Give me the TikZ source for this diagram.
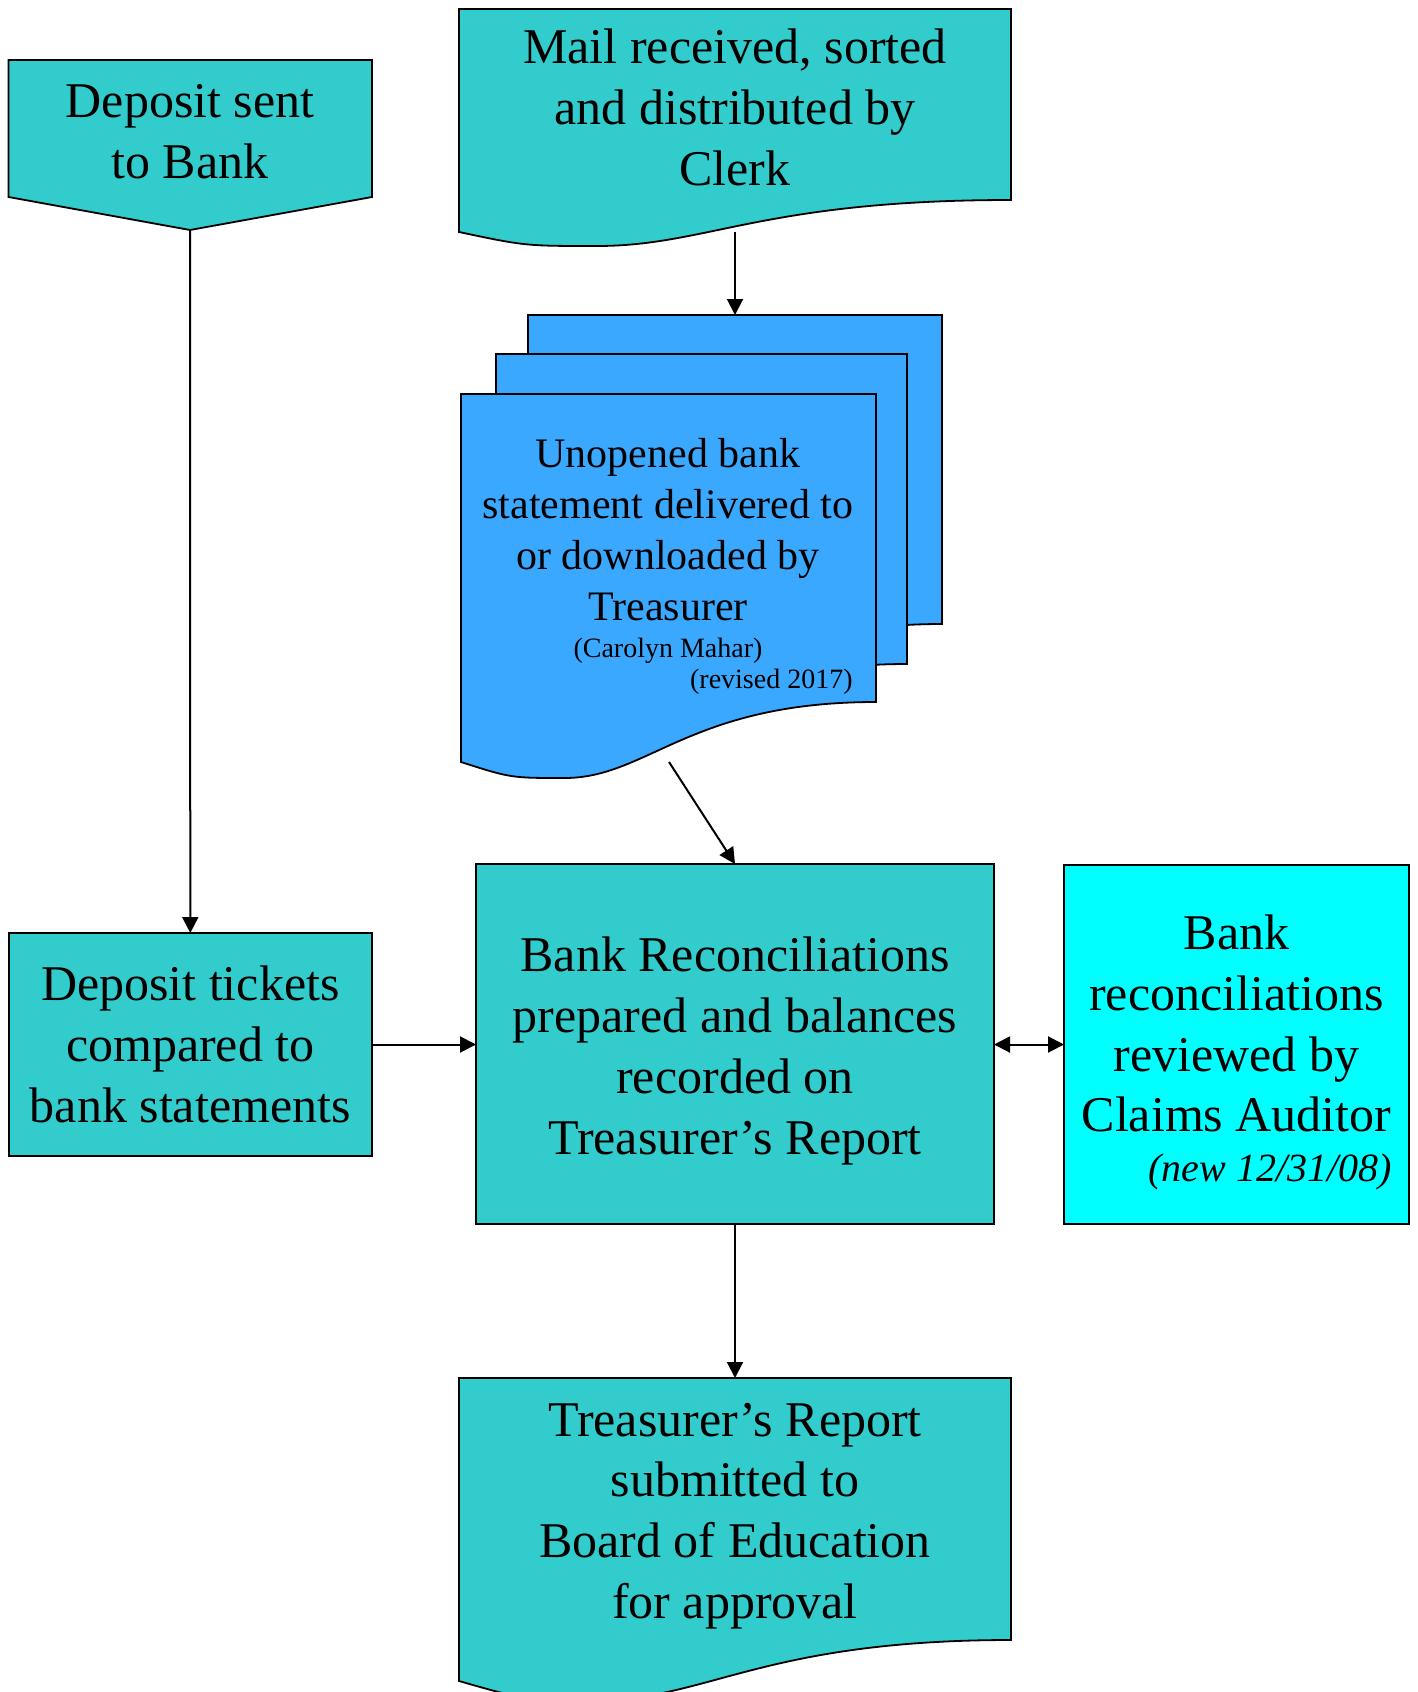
\documentclass[tikz,border=0pt]{standalone}
\usepackage{fontspec}
\setmainfont{Liberation Serif}
\usepackage{tikz}
\usetikzlibrary{arrows.meta}
\definecolor{flowteal}{RGB}{51,204,204}
\definecolor{flowblue}{RGB}{59,168,255}
\definecolor{flowcyan}{RGB}{0,255,255}
\newcommand{\flowfont}{\fontsize{25}{30.4}\selectfont}
\newcommand{\stmtfont}{\fontsize{21}{25.4}\selectfont}
\newcommand{\notefont}{\fontsize{14}{16}\selectfont}
% document outline: style, left, top, right, right bottom, lowest, left bottom
\newcommand{\docshape}[7]{%
  \path[#1] (#2,#3) -- (#4,#3) -- (#4,#5)
    .. controls ({#4-0.45*(#4-#2)},#5) and ({#2+0.45*(#4-#2)},#6)
    .. ({#2+0.25*(#4-#2)},#6)
    .. controls ({#2+0.12*(#4-#2)},#6) .. (#2,#7) -- cycle;}
\tikzset{%
  flowbox/.style  = {shape=rectangle, draw, line width=0.9pt, align=center,%
                     fill=flowteal, outer sep=0pt, font=\flowfont},%
  auditbox/.style = {flowbox, fill=flowcyan},%
  docteal/.style  = {draw, line width=0.9pt, fill=flowteal},%
  docblue/.style  = {draw, line width=0.9pt, fill=flowblue},%
  plain/.style    = {align=center, font=\flowfont, inner sep=0pt},%
  note/.style     = {font=\notefont, inner sep=0pt},%
  flow/.style     = {-{Triangle[length=8pt,width=8pt]}, line width=1pt}%
}
\begin{document}
\begin{tikzpicture}[x=0.5pt, y=-0.5pt]
  \useasboundingbox (0,0) rectangle (1418,1692);
  % off-page connector
  \path[docteal] (8.5,60) -- (372,60) -- (372,197) -- (190,230)
    -- (8.5,197) -- cycle;
  \coordinate (deptip) at (190,230);
  \node[plain] (dep) at (190,132) {Deposit sent\\to Bank};
  % documents
  \docshape{docteal}{459}{9}{1011}{200}{246}{232}
  \node[plain] (mail) at (735,107.5) {Mail received, sorted\\and distributed by\\Clerk};
  \docshape{docblue}{528}{315}{942}{624}{700}{684}
  \docshape{docblue}{496}{354}{907}{664}{740}{724}
  \docshape{docblue}{461}{394}{876}{702}{778}{762}
  \node[plain, font=\stmtfont] (stmt) at (668,529.5)
    {Unopened bank\\statement delivered to\\or downloaded by\\Treasurer};
  \node[note] (stmtname) at (668,651) {(Carolyn Mahar)};
  \node[note, anchor=east] (stmtrev) at (853,682) {(revised 2017)};
  \docshape{docteal}{459}{1378}{1011}{1640}{1700}{1681}
  \node[plain] (report) at (735,1516)
    {Treasurer’s Report\\submitted to\\Board of Education\\for approval};
  % process boxes
  \node[flowbox, minimum width=181.7pt, minimum height=111.5pt] (tickets)
    at (190.3,1044.5) {Deposit tickets\\compared to\\bank statements};
  \node[flowbox, minimum width=259pt, minimum height=180pt] (recon)
    at (735,1044) {};
  \node[plain] (recontext) at (735,1051)
    {Bank Reconciliations\\prepared and balances\\recorded on\\Treasurer’s Report};
  \node[auditbox, minimum width=172.5pt, minimum height=179.5pt] (audit)
    at (1236.5,1044.5) {};
  \node[plain] (audittext) at (1236.5,1023.5)
    {Bank\\reconciliations\\reviewed by\\Claims Auditor};
  \node[plain, font=\fontsize{20}{24}\selectfont\itshape, anchor=east] (auditdate)
    at (1392,1172) {(new 12/31/08)};
  % connectors
  \coordinate (mailout) at (735,232);
  \coordinate (stacktop) at (735,315);
  \coordinate (stmtout) at (669,762);
  \coordinate (reporttop) at (735,1378);
  \draw[flow] (deptip) -- (tickets.north);
  \draw[flow] (mailout) -- (stacktop);
  \draw[flow] (stmtout) -- (recon.north);
  \draw[flow] (tickets.east) -- (recon.west |- tickets.east);
  \draw[flow, {Triangle[length=8pt,width=8pt]}-{Triangle[length=8pt,width=8pt]}]
    (recon.east |- tickets.east) -- (audit.west |- tickets.east);
  \draw[flow] (recon.south) -- (reporttop);
\end{tikzpicture}
\end{document}
